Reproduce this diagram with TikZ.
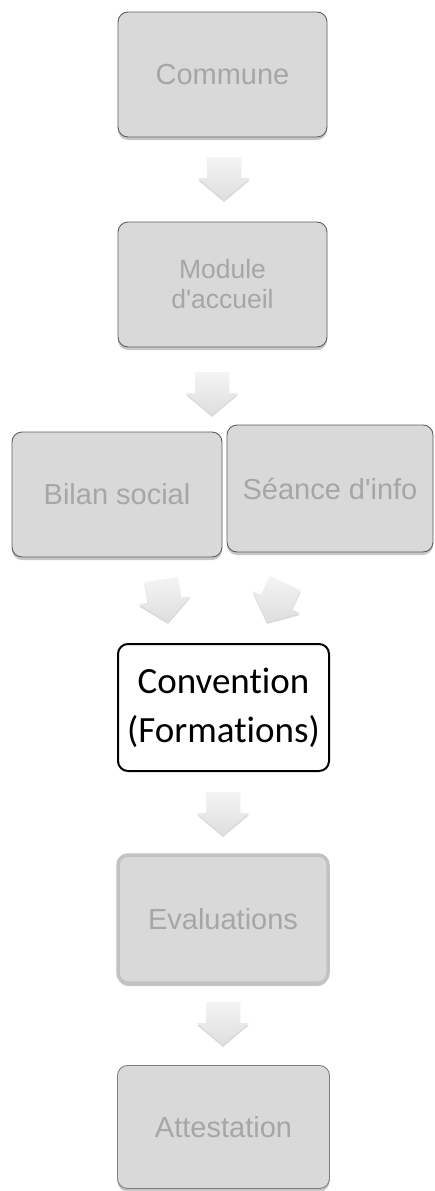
\documentclass[tikz,border=0pt]{standalone}
\usepackage{fontspec}
\setmainfont{Liberation Sans}[Ligatures={TeXOff,NoCommon}]
\newfontfamily\calibri{Carlito}[Ligatures={TeXOff,NoCommon}]
\usetikzlibrary{shadows}
\definecolor{boxfill}{HTML}{D9D9D9}
\definecolor{boxdraw}{HTML}{5E5E5E}
\definecolor{txtgray}{HTML}{A6A6A6}
\definecolor{evaldraw}{HTML}{C2C2C2}
\definecolor{arrtop}{HTML}{F4F4F4}
\definecolor{arrbot}{HTML}{DEDEDE}
\tikzset{
  greybox/.style={draw=boxdraw, line width=0.9pt, fill=boxfill, rounded corners=10pt,
    text=txtgray, font=\fontsize{29}{33}\selectfont, align=center, inner sep=0pt,
    drop shadow={shadow xshift=0pt, shadow yshift=-3pt, opacity=0.22, fill=black}},
  whitebox/.style={draw=black, line width=2pt, fill=white, rounded corners=10pt,
    text=black, font=\calibri\fontsize{37}{49}\selectfont, align=center, inner sep=0pt},
  blockarr/.style={top color=arrtop, bottom color=arrbot, draw=none,
    drop shadow={shadow xshift=0pt, shadow yshift=-2pt, opacity=0.15, fill=black}},
}
\newcommand{\blockarrow}[3]{%
  \begin{scope}[shift={(#1,#2)}, rotate=#3]
    \path[blockarr] (-17,-43) -- (17,-43) -- (17,-22) -- (26,-22) -- (0,0) -- (-26,-22) -- (-17,-22) -- cycle;
  \end{scope}}
\begin{document}
\begin{tikzpicture}[x=1pt, y=-1pt]
\useasboundingbox (0,0) rectangle (434,1191);
\fill[white] (0,0) rectangle (434,1191);

\node[greybox, minimum width=209pt, minimum height=125pt] (commune) at (222.5,74.5) {Commune};
\node[greybox, minimum width=209pt, minimum height=125pt, font=\fontsize{26.5}{30}\selectfont] (module) at (222.5,284.5) {Module\\d'accueil};
\node[greybox, minimum width=210pt, minimum height=125pt] (bilan) at (117,494.5) {Bilan social};
\node[greybox, minimum width=206pt, minimum height=127pt] (seance) at (330,488.5) {Séance d'info};
\node[whitebox, minimum width=211pt, minimum height=127pt] (conv) at (223.5,707.5) {Convention\\(Formations)};
\node[greybox, draw=evaldraw, line width=3.5pt, minimum width=210pt, minimum height=128pt, drop shadow={opacity=0}] (eval) at (223,919) {Evaluations};
\node[greybox, draw=boxdraw!80, minimum width=212pt, minimum height=123pt] (attest) at (223.5,1127) {Attestation};

\blockarrow{224}{200}{0}
\blockarrow{212}{415}{0}
\blockarrow{168}{622}{9}
\blockarrow{267}{622}{-25}
\blockarrow{223}{835}{0}
\blockarrow{223}{1045}{0}
\end{tikzpicture}
\end{document}
